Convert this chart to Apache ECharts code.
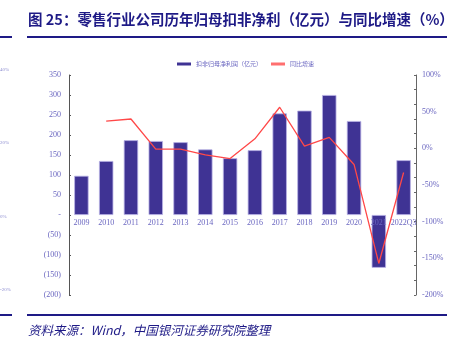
<!DOCTYPE html>
<html>
<head>
<meta charset="utf-8">
<script src="https://cdn.jsdelivr.net/npm/echarts@6/dist/echarts.min.js"></script>
<style>
  html, body { margin: 0; padding: 0; background: #fff; }
  #chart { width: 455px; height: 353px; }
</style>
</head>
<body>
<div id="chart"></div>
<script>
// data
const years = ['2009', '2010', '2011', '2012', '2013', '2014', '2015', '2016', '2017', '2018', '2019', '2020', '2021', '2022Q3'];
const profit = [98, 135, 187, 185, 182, 164, 142, 162, 254, 261, 300, 235, -132, 137];
const growth = [null, 37, 40, -1, -1, -9, -14, 13, 56, 3, 15, -22, -157, -33];
const strayTicks = ['40%', '20%', '0%', '-20%'];  // cut-off labels at the left edge

const navy = '#1e1a86';
const labelColor = '#6a66c0';
const serif = 'Liberation Serif';
const cjk = 'Noto Sans CJK SC';

const chart = echarts.init(document.getElementById('chart'));

// left axis label: 0 -> "-", negatives in brackets
function money(v) {
  if (v === 0) return '-';
  if (v < 0) return '(' + (-v) + ')';
  return String(v);
}

const stray = strayTicks.map(function (t, i) {
  return {
    type: 'text', left: 0, top: 67 + i * 73.5,
    style: { text: t, fill: '#8c8cd0', font: '5px ' + serif }
  };
});

chart.setOption({
  animation: false,
  textStyle: { fontFamily: serif },
  graphic: [
    { type: 'text', left: 28, top: 12,
      style: { text: '图 25：零售行业公司历年归母扣非净利（亿元）与同比增速（%）', fill: navy,
               font: 'bold 14.5px "' + cjk + '"' } },
    { type: 'rect', shape: { x: 0, y: 36, width: 12, height: 2 }, style: { fill: navy } },
    { type: 'rect', shape: { x: 27, y: 36, width: 420, height: 2 }, style: { fill: navy } },
    { type: 'rect', shape: { x: 0, y: 314, width: 12, height: 2 }, style: { fill: navy } },
    { type: 'rect', shape: { x: 27, y: 314, width: 420, height: 2 }, style: { fill: navy } },
    { type: 'text', left: 28, top: 324,
      style: { text: '资料来源：Wind，中国银河证券研究院整理', fill: navy,
               font: 'italic 12.5px "' + cjk + '"' } }
  ].concat(stray),
  legend: {
    top: 56, left: 172, itemGap: 9, itemWidth: 14, itemHeight: 3,
    textStyle: { fontSize: 6, color: '#6a66c0', fontFamily: cjk },
    data: [
      { name: '扣非归母净利润（亿元）', icon: 'rect', itemStyle: { borderWidth: 0 } },
      { name: '同比增速', icon: 'rect' }
    ]
  },
  grid: { left: 69, right: 39, top: 75, bottom: 58, containLabel: false },
  xAxis: {
    // lifted from the grid bottom (y=295) to the zero line (y=215), drawn over the bars
    type: 'category', data: years, position: 'bottom', offset: -80, z: 5,
    axisLine: { show: false, onZero: false },
    axisTick: { show: false },
    axisLabel: { color: labelColor, fontSize: 8, fontFamily: serif, margin: 4, interval: 0 }
  },
  yAxis: [
    {
      type: 'value', min: -200, max: 350, interval: 50, position: 'left',
      splitLine: { show: false },
      axisLine: { show: true, lineStyle: { color: '#555', width: 1 } },
      axisTick: { show: true, inside: true, length: 2, lineStyle: { color: '#555' } },
      axisLabel: { color: labelColor, fontSize: 8, fontFamily: serif, margin: 8, formatter: money }
    },
    {
      type: 'value', min: -200, max: 100, interval: 50, position: 'right',
      splitLine: { show: false },
      axisLine: { show: true, lineStyle: { color: '#666', width: 1 } },
      axisTick: { show: false },
      axisLabel: { color: labelColor, fontSize: 8, fontFamily: serif, margin: 6, formatter: '{value}%' }
    },
    {
      // finer tick marks on the right axis
      type: 'value', min: -200, max: 100, interval: 20, position: 'right',
      splitLine: { show: false },
      axisLine: { show: false },
      axisTick: { show: true, inside: true, length: 2, lineStyle: { color: '#666' } },
      axisLabel: { show: false }
    }
  ],
  series: [
    {
      name: '扣非归母净利润（亿元）', type: 'bar', data: profit, barWidth: '58%',
      itemStyle: { color: '#3f3394', borderColor: '#b9b2e6', borderWidth: 0.8 }
    },
    {
      name: '同比增速', type: 'line', yAxisIndex: 1, data: growth, z: 6,
      showSymbol: false, symbol: 'none',
      lineStyle: { color: '#ff4848', width: 1.3 },
      itemStyle: { color: '#ff6f6f' }
    }
  ]
});
</script>
</body>
</html>
